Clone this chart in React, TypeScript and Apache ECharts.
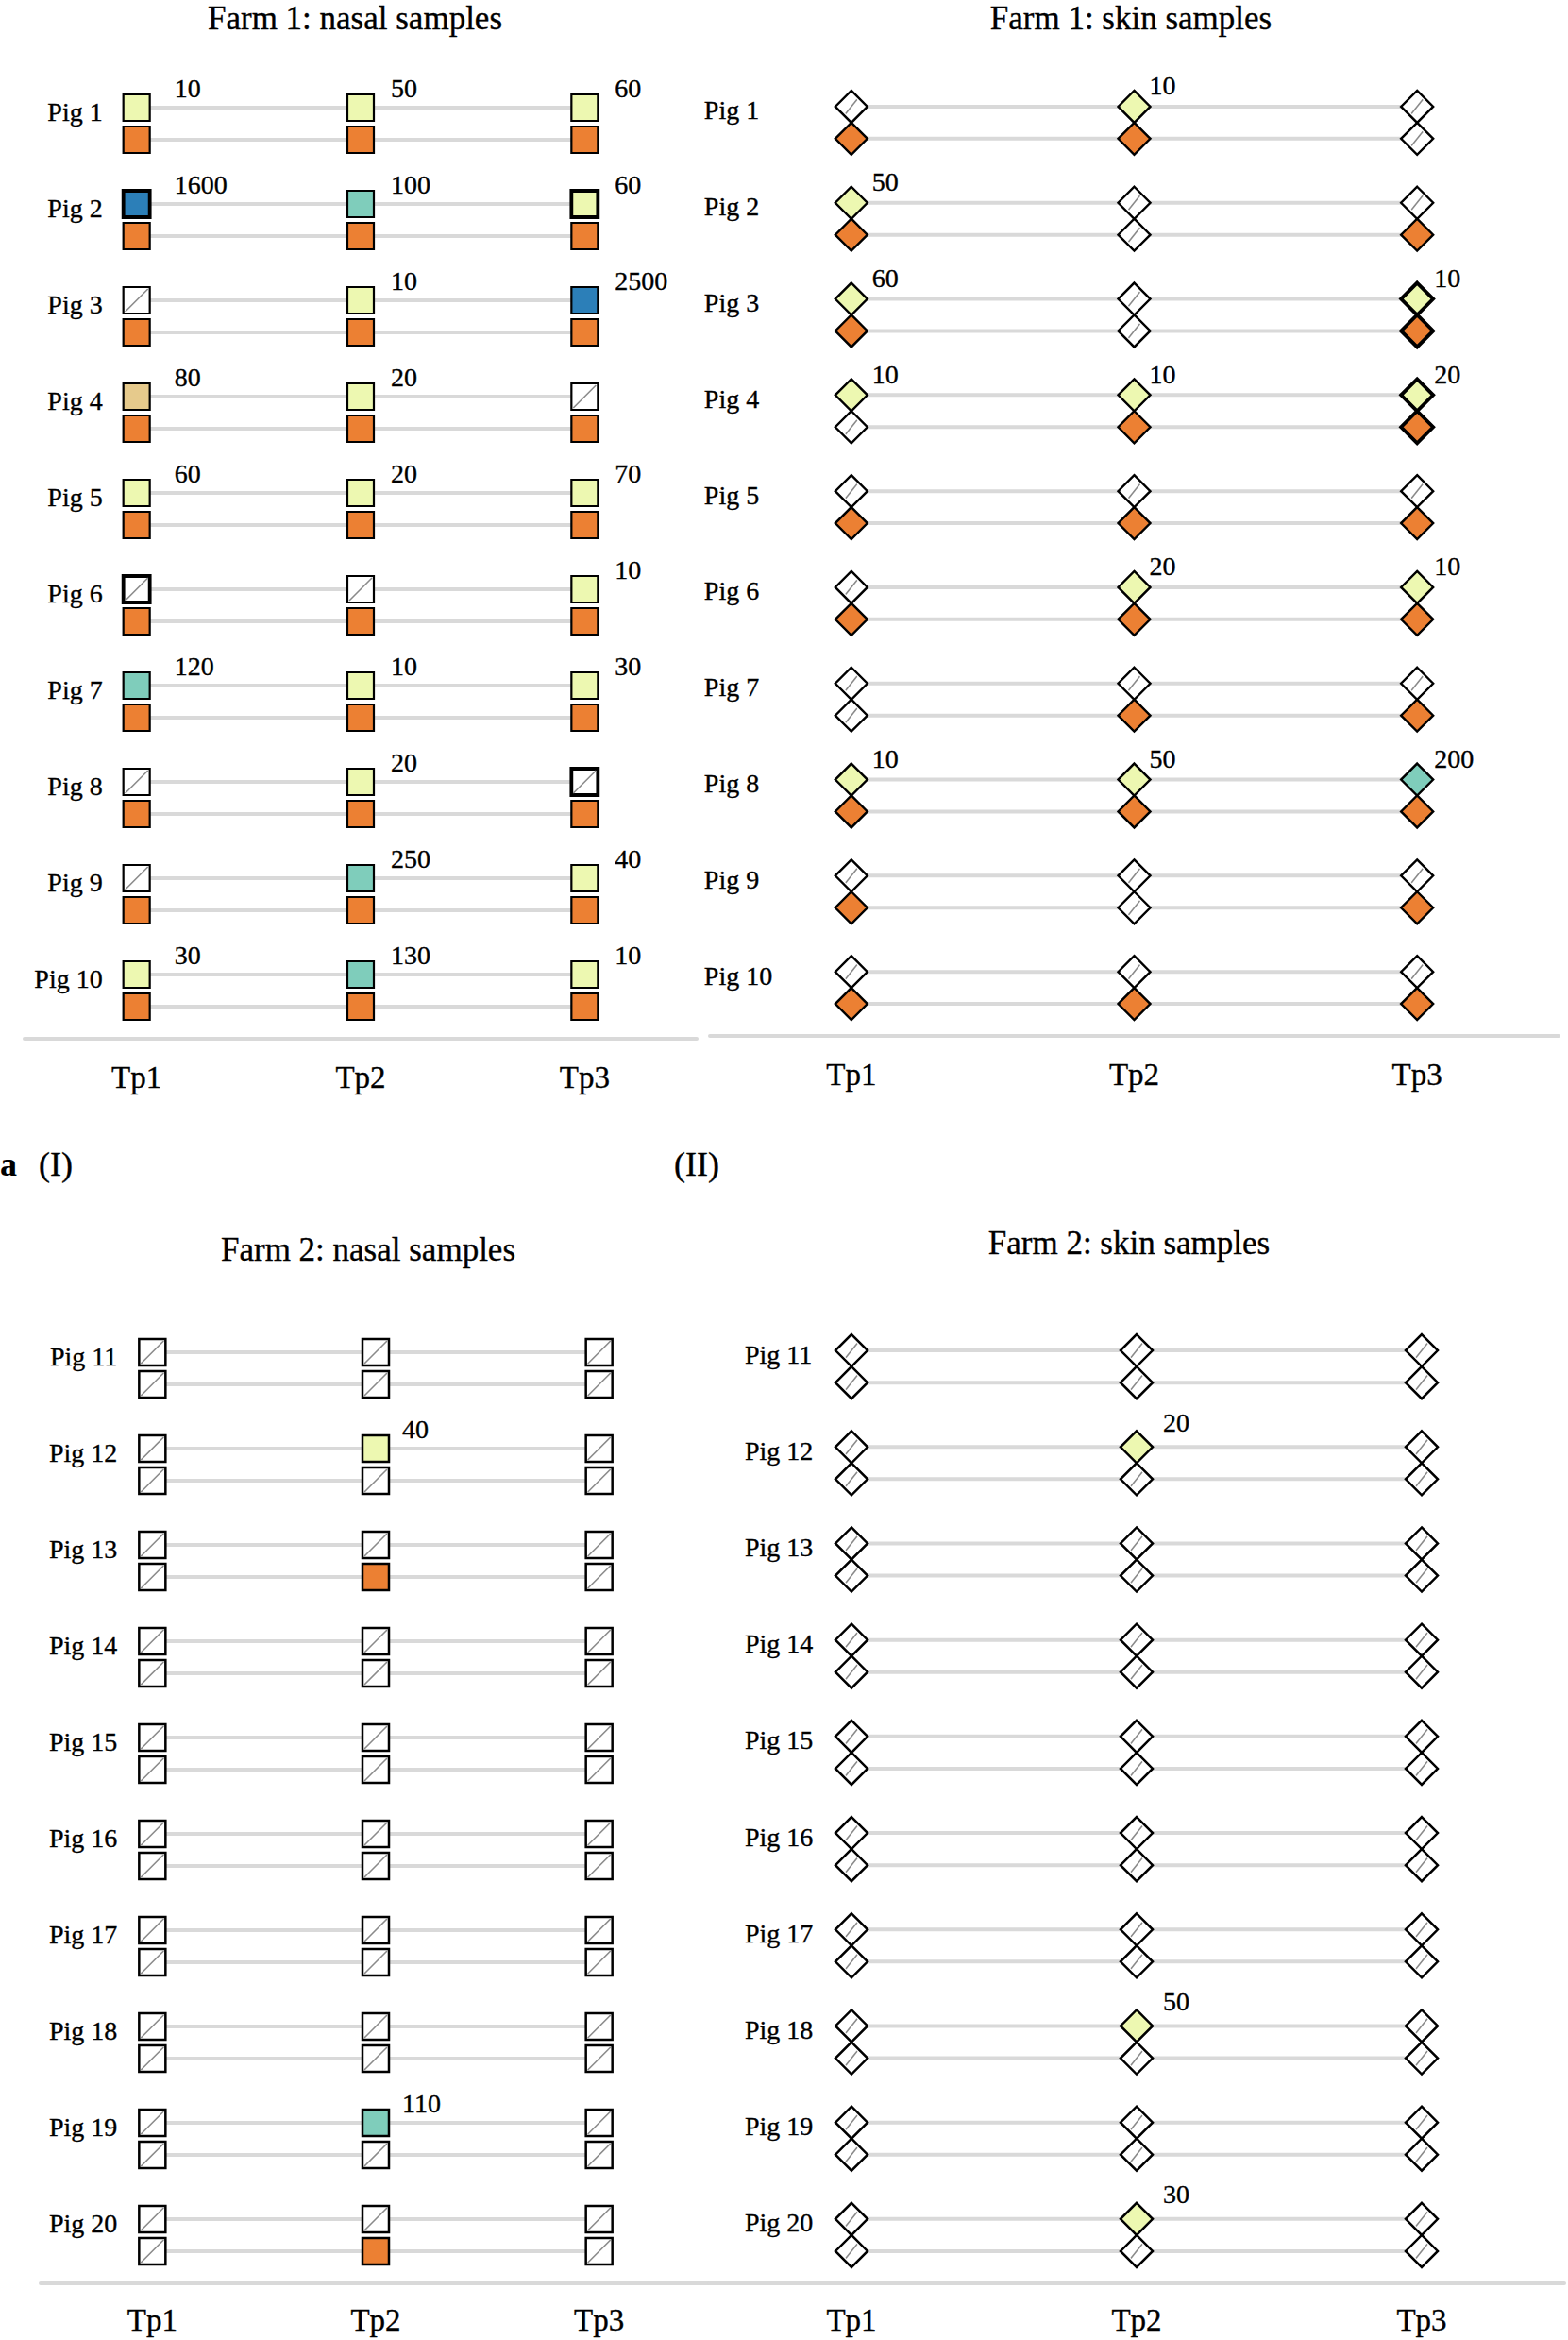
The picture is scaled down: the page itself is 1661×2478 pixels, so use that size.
import React, { useEffect, useRef } from 'react';
import * as echarts from 'echarts';

// ---------------- DATA ----------------
const timepoints = ['Tp1', 'Tp2', 'Tp3'];
const farm1Pigs = ['Pig 1', 'Pig 2', 'Pig 3', 'Pig 4', 'Pig 5', 'Pig 6', 'Pig 7', 'Pig 8', 'Pig 9', 'Pig 10'];
const farm2Pigs = ['Pig 11', 'Pig 12', 'Pig 13', 'Pig 14', 'Pig 15', 'Pig 16', 'Pig 17', 'Pig 18', 'Pig 19', 'Pig 20'];

// counts (null = negative / not detected), one row per pig, one column per time point
const farm1NasalCounts = [
  [10, 50, 60],
  [1600, 100, 60],
  [null, 10, 2500],
  [80, 20, null],
  [60, 20, 70],
  [null, null, 10],
  [120, 10, 30],
  [null, 20, null],
  [null, 250, 40],
  [30, 130, 10],
];
const farm1NasalPositive = [
  [1, 1, 1], [1, 1, 1], [1, 1, 1], [1, 1, 1], [1, 1, 1],
  [1, 1, 1], [1, 1, 1], [1, 1, 1], [1, 1, 1], [1, 1, 1],
];
const farm1NasalHighlighted = [
  [0, 0, 0], [1, 0, 1], [0, 0, 0], [0, 0, 0], [0, 0, 0],
  [1, 0, 0], [0, 0, 0], [0, 0, 1], [0, 0, 0], [0, 0, 0],
];

const farm1SkinCounts = [
  [null, 10, null],
  [50, null, null],
  [60, null, 10],
  [10, 10, 20],
  [null, null, null],
  [null, 20, 10],
  [null, null, null],
  [10, 50, 200],
  [null, null, null],
  [null, null, null],
];
const farm1SkinPositive = [
  [1, 1, 0], [1, 0, 1], [1, 0, 1], [0, 1, 1], [1, 1, 1],
  [1, 1, 1], [0, 1, 1], [1, 1, 1], [1, 0, 1], [1, 1, 1],
];
const farm1SkinHighlighted = [
  [0, 0, 0], [0, 0, 0], [0, 0, 1], [0, 0, 1], [0, 0, 0],
  [0, 0, 0], [0, 0, 0], [0, 0, 0], [0, 0, 0], [0, 0, 0],
];

const farm2NasalCounts = [
  [null, null, null],
  [null, 40, null],
  [null, null, null],
  [null, null, null],
  [null, null, null],
  [null, null, null],
  [null, null, null],
  [null, null, null],
  [null, 110, null],
  [null, null, null],
];
const farm2NasalPositive = [
  [0, 0, 0], [0, 0, 0], [0, 1, 0], [0, 0, 0], [0, 0, 0],
  [0, 0, 0], [0, 0, 0], [0, 0, 0], [0, 0, 0], [0, 1, 0],
];

const farm2SkinCounts = [
  [null, null, null],
  [null, 20, null],
  [null, null, null],
  [null, null, null],
  [null, null, null],
  [null, null, null],
  [null, null, null],
  [null, 50, null],
  [null, null, null],
  [null, 30, null],
];
const farm2SkinPositive = [
  [0, 0, 0], [0, 0, 0], [0, 0, 0], [0, 0, 0], [0, 0, 0],
  [0, 0, 0], [0, 0, 0], [0, 0, 0], [0, 0, 0], [0, 0, 0],
];
const noHighlight = [
  [0, 0, 0], [0, 0, 0], [0, 0, 0], [0, 0, 0], [0, 0, 0],
  [0, 0, 0], [0, 0, 0], [0, 0, 0], [0, 0, 0], [0, 0, 0],
];

const panelTitles = ['Farm 1: nasal samples', 'Farm 1: skin samples', 'Farm 2: nasal samples', 'Farm 2: skin samples'];

// ---------------- STYLE ----------------
const SERIF = "'Liberation Serif', 'Times New Roman', 'DejaVu Serif', serif";
const ORANGE = '#ec8033';
const LINE_GREY = '#d9d9d9';
const SLASH_GREY = '#8a8a8a';

function countColor(v: number | null): string {
  if (v == null) return '#ffffff';
  if (v < 80) return '#edf8b1';
  if (v < 100) return '#e6ca8c';
  if (v < 1000) return '#7fcdbb';
  return '#2c7fb8';
}

const panels = [
  {
    pigs: farm1Pigs, counts: farm1NasalCounts, positive: farm1NasalPositive, highlighted: farm1NasalHighlighted, highlightBottom: false,
    title: panelTitles[0], titleX: 376, titleY: 19,
    grid: { left: 26, top: 80, width: 712, height: 1020 },
    symbol: 'rect', size: 28, slash: [24, 24], border: 2.2,
    pigAlign: 'right', pigDx: -36, valDx: [40, 32, 32], valDy: -21, tickMargin: 24,
  },
  {
    pigs: farm1Pigs, counts: farm1SkinCounts, positive: farm1SkinPositive, highlighted: farm1SkinHighlighted, highlightBottom: true,
    title: panelTitles[1], titleX: 1198, titleY: 19,
    grid: { left: 752, top: 79, width: 899, height: 1018 },
    symbol: 'diamond', size: 34, slash: [12, 15], border: 2.4,
    pigAlign: 'left', pigDx: -156, valDx: [22, 16, 18], valDy: -22, tickMargin: 24,
  },
  {
    pigs: farm2Pigs, counts: farm2NasalCounts, positive: farm2NasalPositive, highlighted: noHighlight, highlightBottom: false,
    title: panelTitles[2], titleX: 390, titleY: 1323,
    grid: { left: 43, top: 1398, width: 710, height: 1020 },
    symbol: 'rect', size: 28, slash: [24, 24], border: 2.5,
    pigAlign: 'right', pigDx: -37, valDx: [28, 28, 28], valDy: -21, tickMargin: 22,
  },
  {
    pigs: farm2Pigs, counts: farm2SkinCounts, positive: farm2SkinPositive, highlighted: noHighlight, highlightBottom: false,
    title: panelTitles[3], titleX: 1196, titleY: 1316,
    grid: { left: 751, top: 1396, width: 906, height: 1022 },
    symbol: 'diamond', size: 34, slash: [12, 15], border: 2.5,
    pigAlign: 'left', pigDx: -113, valDx: [28, 28, 28], valDy: -26, tickMargin: 22,
  },
];

const TEXT_INK = { color: '#000', fontFamily: SERIF, textBorderColor: '#000', textBorderWidth: 0.35 };

function buildOption() {
  const grids: any[] = [];
  const xAxes: any[] = [];
  const yAxes: any[] = [];
  const series: any[] = [];
  const graphics: any[] = [];

  panels.forEach((p, pi) => {
    grids.push({ ...p.grid, containLabel: false, outerBoundsMode: 'none' });
    xAxes.push({
      type: 'category', gridIndex: pi, data: timepoints, boundaryGap: true,
      axisLine: { show: true, onZero: false, lineStyle: { color: LINE_GREY, width: 4 } },
      axisTick: { show: false }, splitLine: { show: false },
      axisLabel: { fontSize: 33, margin: p.tickMargin, ...TEXT_INK },
    });
    yAxes.push({ type: 'value', gridIndex: pi, inverse: true, min: -1, max: 29, show: false });

    // connecting grey lines
    p.pigs.forEach((_, i) => {
      [0, 1].forEach((sub) => {
        series.push({
          type: 'line', xAxisIndex: pi, yAxisIndex: pi, silent: true, symbol: 'none', z: 1,
          data: timepoints.map((t) => [t, 3 * i + sub]),
          lineStyle: { color: LINE_GREY, width: 4, opacity: 1 },
        });
      });
    });

    const topData: any[] = [];
    const bottomData: any[] = [];
    const slashData: any[] = [];
    p.pigs.forEach((_, i) => {
      timepoints.forEach((t, j) => {
        const c = p.counts[i][j];
        const hl = p.highlighted[i][j] === 1;
        topData.push({
          value: [t, 3 * i, c],
          itemStyle: { color: countColor(c), borderColor: '#000', borderWidth: hl ? 3.8 : p.border, opacity: 1 },
          label: c == null ? { show: false } : { show: true, formatter: String(c), offset: [p.valDx[j], p.valDy] },
        });
        const pos = p.positive[i][j] === 1;
        const hlb = hl && p.highlightBottom;
        bottomData.push({
          value: [t, 3 * i + 1],
          itemStyle: { color: pos ? ORANGE : '#ffffff', borderColor: '#000', borderWidth: hlb ? 3.8 : p.border, opacity: 1 },
        });
        if (c == null) slashData.push({ value: [t, 3 * i] });
        if (!pos) slashData.push({ value: [t, 3 * i + 1] });
      });
    });

    const valueLabel = {
      position: ['50%', '50%'], align: 'left', verticalAlign: 'middle',
      fontSize: 28, ...TEXT_INK,
    };

    series.push({
      type: 'scatter', xAxisIndex: pi, yAxisIndex: pi, symbol: p.symbol, symbolSize: p.size, z: 2, silent: true,
      itemStyle: { opacity: 1 },
      data: bottomData,
    });
    series.push({
      type: 'scatter', xAxisIndex: pi, yAxisIndex: pi, symbol: p.symbol, symbolSize: p.size, z: 3, silent: true,
      itemStyle: { opacity: 1 },
      data: topData, label: valueLabel,
    });
    series.push({
      type: 'scatter', xAxisIndex: pi, yAxisIndex: pi, symbol: 'path://M0,24 L24,0', symbolSize: p.slash, z: 4, silent: true,
      data: slashData,
      itemStyle: { color: 'rgba(0,0,0,0)', borderColor: SLASH_GREY, borderWidth: 1.6, opacity: 1 },
    });
    // pig labels
    series.push({
      type: 'scatter', xAxisIndex: pi, yAxisIndex: pi, symbolSize: 1, z: 5, silent: true,
      itemStyle: { color: 'rgba(0,0,0,0)', opacity: 1 },
      data: p.pigs.map((name, i) => ({ name, value: ['Tp1', 3 * i] })),
      label: {
        show: true, formatter: '{b}', position: ['50%', '50%'], align: p.pigAlign, verticalAlign: 'middle',
        offset: [p.pigDx, 4], fontSize: 28, ...TEXT_INK,
      },
    });

    graphics.push({
      type: 'text', x: p.titleX, y: p.titleY, silent: true,
      style: { text: p.title, fontSize: 35, fontFamily: SERIF, fill: '#000', stroke: '#000', lineWidth: 0.35, align: 'center', verticalAlign: 'middle' },
    });
  });

  graphics.push({
    type: 'text', x: 0, y: 1233, silent: true,
    style: { text: 'a', fontSize: 36, fontWeight: 'bold', fontFamily: SERIF, fill: '#000', align: 'left', verticalAlign: 'middle' },
  });
  graphics.push({
    type: 'text', x: 41, y: 1233, silent: true,
    style: { text: '(I)', fontSize: 36, fontFamily: SERIF, fill: '#000', stroke: '#000', lineWidth: 0.35, align: 'left', verticalAlign: 'middle' },
  });
  graphics.push({
    type: 'text', x: 714, y: 1233, silent: true,
    style: { text: '(II)', fontSize: 36, fontFamily: SERIF, fill: '#000', stroke: '#000', lineWidth: 0.35, align: 'left', verticalAlign: 'middle' },
  });

  return {
    animation: false,
    backgroundColor: '#ffffff',
    textStyle: { fontFamily: SERIF },
    grid: grids,
    xAxis: xAxes,
    yAxis: yAxes,
    series,
    graphic: graphics,
  };
}

export default function App() {
  const ref = useRef<HTMLDivElement>(null);
  useEffect(() => {
    document.body.style.margin = '0';
    if (!ref.current) return;
    const chart = echarts.init(ref.current, null, { renderer: 'svg' });
    chart.setOption(buildOption() as any);
    return () => {
      chart.dispose();
    };
  }, []);
  return <div ref={ref} style={{ width: 1661, height: 2478 }} />;
}
